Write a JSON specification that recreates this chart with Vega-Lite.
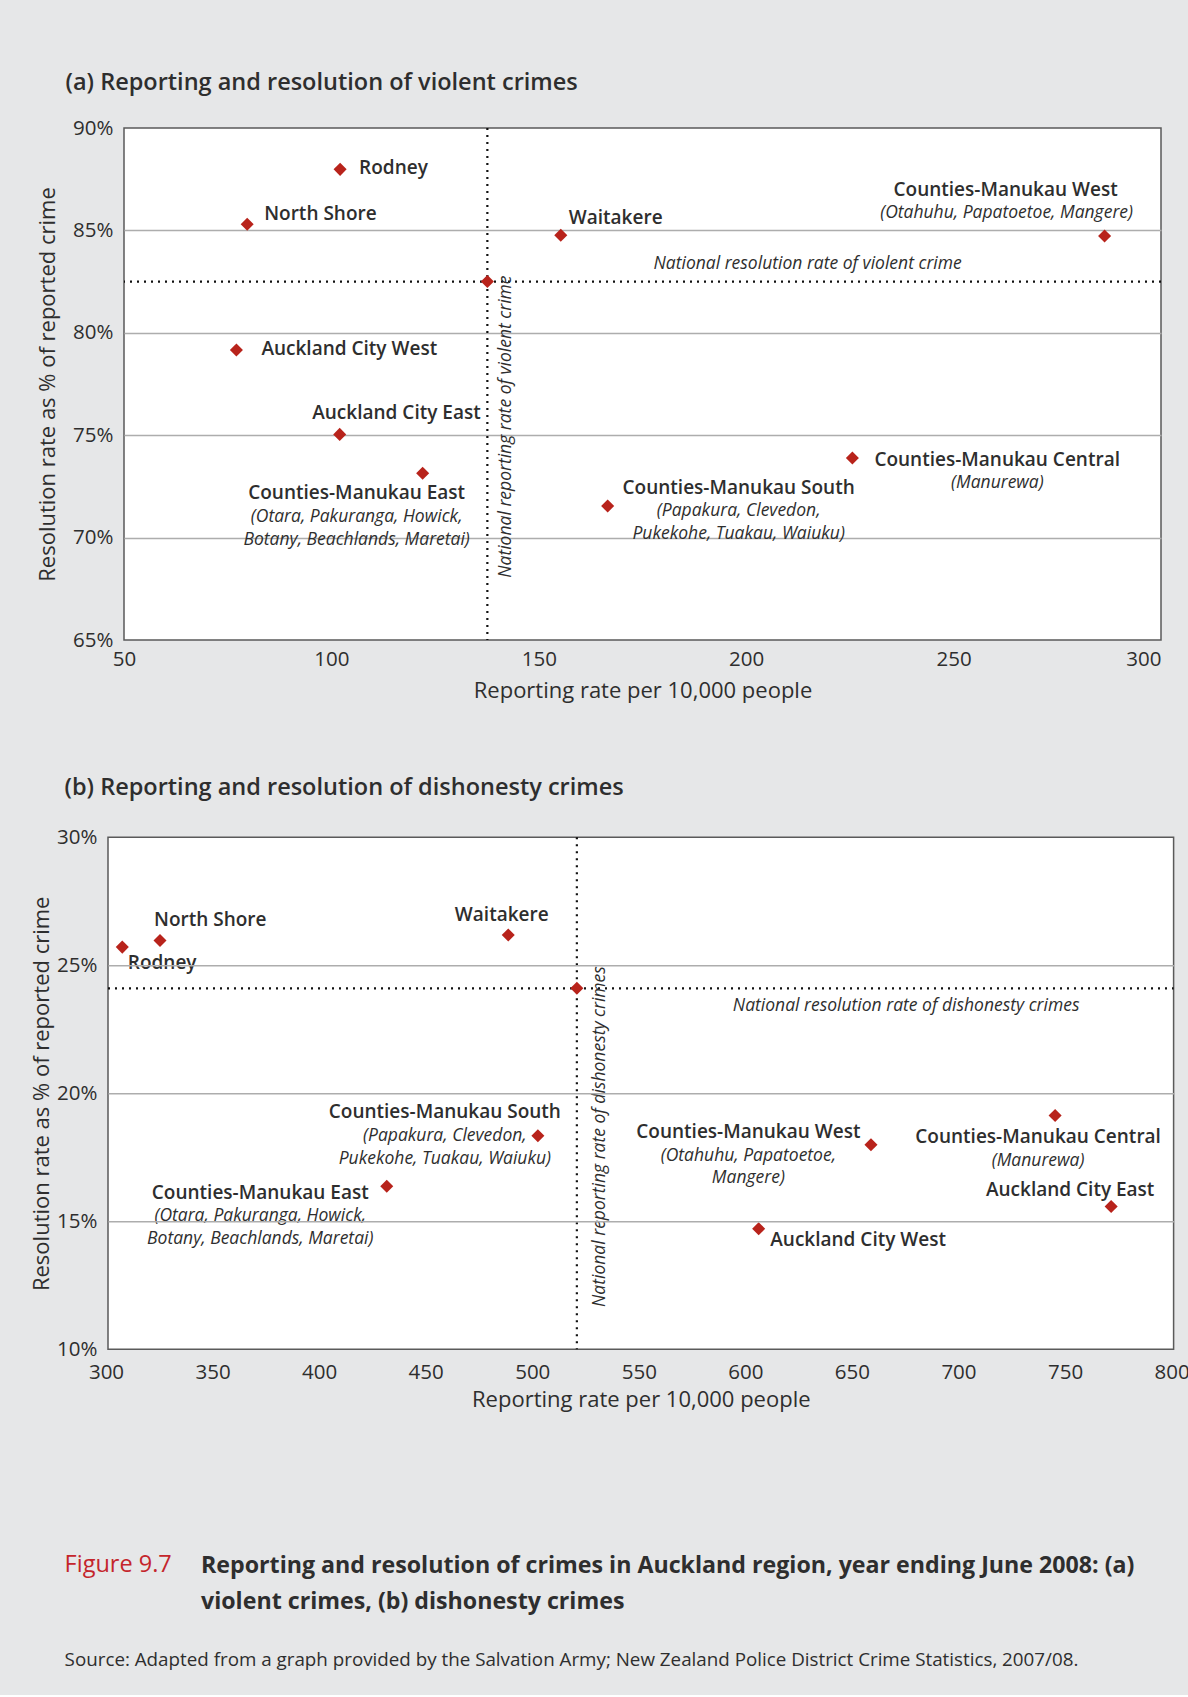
{
  "$schema": "https://vega.github.io/schema/vega-lite/v6.json",
  "background": "#e6e7e8",
  "padding": {"left": 29, "top": 69, "right": 0, "bottom": 25},
  "config": {
    "font": "Open Sans",
    "view": {"fill": "white", "stroke": "#5a5a5a", "strokeWidth": 1.5},
    "axis": {"labelFont": "Open Sans", "labelFontSize": 20.5, "labelColor": "#2e2e2e", "titleFont": "Open Sans", "titleFontSize": 22, "titleFontWeight": "normal", "titleColor": "#2e2e2e", "domain": false, "ticks": false, "grid": false},
    "title": {"font": "Open Sans"},
    "text": {"font": "Open Sans", "color": "#2e2e2e"},
    "style": {
      "name": {"fontSize": 19, "fontWeight": 600, "baseline": "middle", "font": "Open Sans", "fill": "#2e2e2e"},
      "sub": {"fontSize": 17.5, "fontStyle": "italic", "baseline": "top", "lineBreak": "\n", "lineHeight": 22.5, "font": "Open Sans", "fill": "#2e2e2e", "align": "center"},
      "note": {"fontSize": 17.5, "fontStyle": "italic", "baseline": "middle", "font": "Open Sans", "fill": "#2e2e2e", "align": "center"}
    }
  },
  "datasets": {
    "violent": [
      {"region": "Rodney", "sub": "", "reporting": 102.1, "resolution": 87.98},
      {"region": "North Shore", "sub": "", "reporting": 79.7, "resolution": 85.3},
      {"region": "Auckland City West", "sub": "", "reporting": 77.1, "resolution": 79.16},
      {"region": "Auckland City East", "sub": "", "reporting": 102.0, "resolution": 75.04},
      {"region": "Counties-Manukau East", "sub": "(Otara, Pakuranga, Howick,\nBotany, Beachlands, Maretai)", "reporting": 122.0, "resolution": 73.14},
      {"region": "Waitakere", "sub": "", "reporting": 155.3, "resolution": 84.76},
      {"region": "Counties-Manukau South", "sub": "(Papakura, Clevedon,\nPukekohe, Tuakau, Waiuku)", "reporting": 166.6, "resolution": 71.54},
      {"region": "Counties-Manukau Central", "sub": "(Manurewa)", "reporting": 225.6, "resolution": 73.89},
      {"region": "Counties-Manukau West", "sub": "(Otahuhu, Papatoetoe, Mangere)", "reporting": 286.4, "resolution": 84.73},
      {"region": "National", "sub": "", "reporting": 137.6, "resolution": 82.5}
    ],
    "dishonesty": [
      {"region": "Rodney", "sub": "", "reporting": 306.7, "resolution": 25.71},
      {"region": "North Shore", "sub": "", "reporting": 324.4, "resolution": 25.97},
      {"region": "Waitakere", "sub": "", "reporting": 487.8, "resolution": 26.18},
      {"region": "Counties-Manukau South", "sub": "(Papakura, Clevedon,\nPukekohe, Tuakau, Waiuku)", "reporting": 501.7, "resolution": 18.34},
      {"region": "Counties-Manukau East", "sub": "(Otara, Pakuranga, Howick,\nBotany, Beachlands, Maretai)", "reporting": 430.8, "resolution": 16.37},
      {"region": "Counties-Manukau West", "sub": "(Otahuhu, Papatoetoe,\nMangere)", "reporting": 658.0, "resolution": 17.99},
      {"region": "Auckland City West", "sub": "", "reporting": 605.3, "resolution": 14.71},
      {"region": "Counties-Manukau Central", "sub": "(Manurewa)", "reporting": 744.4, "resolution": 19.13},
      {"region": "Auckland City East", "sub": "", "reporting": 770.7, "resolution": 15.58},
      {"region": "National", "sub": "", "reporting": 520.0, "resolution": 24.1}
    ]
  },
  "title": {
    "text": "Figure 9.7",
    "subtitle": "Source: Adapted from a graph provided by the Salvation Army; New Zealand Police District Crime Statistics, 2007/08.",
    "orient": "bottom", "anchor": "start", "dx": 34.6, "offset": -60.5,
    "color": "#c4252b", "fontSize": 23.5, "fontWeight": "normal",
    "subtitleFont": "Open Sans", "subtitleFontSize": 18.8, "subtitleColor": "#2e2e2e", "subtitlePadding": 74.7
  },
  "vconcat": [
    {
      "title": {
        "text": ["Reporting and resolution of crimes in Auckland region, year ending June 2008: (a)", "violent crimes, (b) dishonesty crimes"],
        "orient": "bottom", "anchor": "start", "dx": 171, "offset": 144.2,
        "fontSize": 23.2, "fontWeight": "bold", "color": "#2e2e2e", "lineHeight": 36
      },
      "spacing": 73.3,
      "vconcat": [
        {
          "width": 1037, "height": 512,
          "title": {"text": "(a) Reporting and resolution of violent crimes", "anchor": "start", "frame": "group", "dx": -58.5, "offset": 23.8, "fontSize": 23.5, "fontWeight": 600, "color": "#2e2e2e"},
          "data": {"name": "violent"},
          "layer": [
            {
              "transform": [{"filter": "datum.region == 'National'"}],
              "mark": {"type": "rule", "strokeDash": [2, 5], "strokeWidth": 2.2, "color": "#111111"},
              "encoding": {"x": {"field": "reporting", "type": "quantitative"}}
            },
            {
              "transform": [{"filter": "datum.region == 'National'"}],
              "mark": {"type": "rule", "strokeDash": [2, 5], "strokeWidth": 2.2, "color": "#111111"},
              "encoding": {"y": {"field": "resolution", "type": "quantitative"}}
            },
            {
              "mark": {"type": "point", "shape": "diamond", "filled": true, "size": 170, "color": "#b8231b", "opacity": 1},
              "encoding": {
                "x": {"field": "reporting", "type": "quantitative",
                  "scale": {"domain": [50, 300], "nice": false, "zero": false},
                  "axis": {"title": "Reporting rate per 10,000 people", "values": [50, 100, 150, 200, 250, 300], "labelFlush": false,
                    "labelAlign": {"condition": {"test": "datum.value == 300", "value": "right"}, "value": "center"},
                    "labelPadding": 9, "titleY": 50.5, "titleBaseline": "middle"}},
                "y": {"field": "resolution", "type": "quantitative",
                  "scale": {"domain": [65, 90], "nice": false, "zero": false},
                  "axis": {"title": "Resolution rate as % of reported crime", "values": [65, 70, 75, 80, 85, 90], "labelExpr": "datum.value + '%'",
                    "grid": true, "gridColor": {"condition": {"test": "datum.value == 65 || datum.value == 90", "value": "transparent"}, "value": "#adadad"},
                    "gridWidth": 1.5, "labelPadding": 11, "titleX": -76.7, "titleBaseline": "middle"}}
              }
            },
            {"transform": [{"filter": "datum.region == 'Rodney'"}], "mark": {"type": "text", "style": "name", "align": "left", "dx": 19, "dy": -1},
             "encoding": {"x": {"field": "reporting", "type": "quantitative"}, "y": {"field": "resolution", "type": "quantitative"}, "text": {"field": "region"}}},
            {"transform": [{"filter": "datum.region == 'North Shore'"}], "mark": {"type": "text", "style": "name", "align": "left", "dx": 17, "dy": -10},
             "encoding": {"x": {"field": "reporting", "type": "quantitative"}, "y": {"field": "resolution", "type": "quantitative"}, "text": {"field": "region"}}},
            {"transform": [{"filter": "datum.region == 'Auckland City West'"}], "mark": {"type": "text", "style": "name", "align": "left", "dx": 25, "dy": -1},
             "encoding": {"x": {"field": "reporting", "type": "quantitative"}, "y": {"field": "resolution", "type": "quantitative"}, "text": {"field": "region"}}},
            {"transform": [{"filter": "datum.region == 'Waitakere'"}], "mark": {"type": "text", "style": "name", "align": "left", "dx": 8, "dy": -17},
             "encoding": {"x": {"field": "reporting", "type": "quantitative"}, "y": {"field": "resolution", "type": "quantitative"}, "text": {"field": "region"}}},
            {"transform": [{"filter": "datum.region == 'Counties-Manukau Central'"}], "mark": {"type": "text", "style": "name", "align": "left", "dx": 22, "dy": 2},
             "encoding": {"x": {"field": "reporting", "type": "quantitative"}, "y": {"field": "resolution", "type": "quantitative"}, "text": {"field": "region"}}},
            {"transform": [{"filter": "datum.region == 'Auckland City East'"}], "mark": {"type": "text", "style": "name", "align": "right", "dx": 141, "dy": -21},
             "encoding": {"x": {"field": "reporting", "type": "quantitative"}, "y": {"field": "resolution", "type": "quantitative"}, "text": {"field": "region"}}},
            {"transform": [{"filter": "datum.region == 'Counties-Manukau East'"}], "mark": {"type": "text", "style": "name", "align": "center", "dx": -66, "dy": 20},
             "encoding": {"x": {"field": "reporting", "type": "quantitative"}, "y": {"field": "resolution", "type": "quantitative"}, "text": {"field": "region"}}},
            {"transform": [{"filter": "datum.region == 'Counties-Manukau South'"}], "mark": {"type": "text", "style": "name", "align": "center", "dx": 131, "dy": -18},
             "encoding": {"x": {"field": "reporting", "type": "quantitative"}, "y": {"field": "resolution", "type": "quantitative"}, "text": {"field": "region"}}},
            {"transform": [{"filter": "datum.region == 'Counties-Manukau West'"}], "mark": {"type": "text", "style": "name", "align": "center", "dx": -99, "dy": -46},
             "encoding": {"x": {"field": "reporting", "type": "quantitative"}, "y": {"field": "resolution", "type": "quantitative"}, "text": {"field": "region"}}},
            {"transform": [{"filter": "datum.region == 'Counties-Manukau East'"}], "mark": {"type": "text", "style": "sub", "dx": -66, "dy": 35},
             "encoding": {"x": {"field": "reporting", "type": "quantitative"}, "y": {"field": "resolution", "type": "quantitative"}, "text": {"field": "sub"}}},
            {"transform": [{"filter": "datum.region == 'Counties-Manukau South'"}], "mark": {"type": "text", "style": "sub", "dx": 131, "dy": -4},
             "encoding": {"x": {"field": "reporting", "type": "quantitative"}, "y": {"field": "resolution", "type": "quantitative"}, "text": {"field": "sub"}}},
            {"transform": [{"filter": "datum.region == 'Counties-Manukau Central'"}], "mark": {"type": "text", "style": "sub", "dx": 145, "dy": 16},
             "encoding": {"x": {"field": "reporting", "type": "quantitative"}, "y": {"field": "resolution", "type": "quantitative"}, "text": {"field": "sub"}}},
            {"transform": [{"filter": "datum.region == 'Counties-Manukau West'"}], "mark": {"type": "text", "style": "sub", "dx": -98, "dy": -32},
             "encoding": {"x": {"field": "reporting", "type": "quantitative"}, "y": {"field": "resolution", "type": "quantitative"}, "text": {"field": "sub"}}},
            {"transform": [{"filter": "datum.region == 'National'"}], "mark": {"type": "text", "style": "note", "dy": -18},
             "encoding": {"x": {"datum": 214.8}, "y": {"field": "resolution", "type": "quantitative"}, "text": {"value": "National resolution rate of violent crime"}}},
            {"transform": [{"filter": "datum.region == 'National'"}], "mark": {"type": "text", "style": "note", "angle": 270, "dy": 19},
             "encoding": {"x": {"field": "reporting", "type": "quantitative"}, "y": {"datum": 75.42}, "text": {"value": "National reporting rate of violent crime"}}}
          ]
        },
        {
          "width": 1049.6, "height": 512,
          "view": {"fill": null, "stroke": null},
          "title": {"text": "(b) Reporting and resolution of dishonesty crimes", "anchor": "start", "frame": "group", "dx": -59.5, "offset": 27.5, "fontSize": 23.5, "fontWeight": 600, "color": "#2e2e2e"},
          "data": {"name": "dishonesty"},
          "layer": [
            {
              "transform": [{"filter": "datum.region == 'National'"}],
              "mark": {"type": "rect", "fill": "white", "stroke": "#5a5a5a", "strokeWidth": 1.5},
              "encoding": {"x": {"datum": 300, "type": "quantitative"}, "x2": {"datum": 800}, "y": {"datum": 10, "type": "quantitative"}, "y2": {"datum": 30}}
            },
            {
              "transform": [{"filter": "datum.region == 'National'"}],
              "mark": {"type": "rule", "strokeDash": [2, 5], "strokeWidth": 2.2, "color": "#111111"},
              "encoding": {"x": {"field": "reporting", "type": "quantitative"}}
            },
            {
              "transform": [{"filter": "datum.region == 'National'"}],
              "mark": {"type": "rule", "strokeDash": [2, 5], "strokeWidth": 2.2, "color": "#111111"},
              "encoding": {"y": {"field": "resolution", "type": "quantitative"}, "x": {"datum": 300, "type": "quantitative"}, "x2": {"datum": 800}}
            },
            {
              "mark": {"type": "point", "shape": "diamond", "filled": true, "size": 170, "color": "#b8231b", "opacity": 1},
              "encoding": {
                "x": {"field": "reporting", "type": "quantitative",
                  "scale": {"domain": [300, 800], "range": [-16, 1049.6], "nice": false, "zero": false},
                  "axis": {"title": "Reporting rate per 10,000 people", "values": [300, 350, 400, 450, 500, 550, 600, 650, 700, 750, 800], "labelFlush": false,
                    "labelOffset": -2, "labelPadding": 13, "titleY": 50.3, "titleBaseline": "middle"}},
                "y": {"field": "resolution", "type": "quantitative",
                  "scale": {"domain": [10, 30], "nice": false, "zero": false},
                  "axis": {"title": "Resolution rate as % of reported crime", "values": [10, 15, 20, 25, 30], "labelExpr": "datum.value + '%'",
                    "grid": true, "gridColor": {"condition": {"test": "datum.value == 10 || datum.value == 30", "value": "transparent"}, "value": "#adadad"},
                    "gridWidth": 1.5, "labelPadding": 11, "offset": 16, "zindex": 1, "titleX": -67, "titleBaseline": "middle"}}
              }
            },
            {"transform": [{"filter": "datum.region == 'Rodney'"}], "mark": {"type": "text", "style": "name", "align": "left", "dx": 5.5, "dy": 16},
             "encoding": {"x": {"field": "reporting", "type": "quantitative"}, "y": {"field": "resolution", "type": "quantitative"}, "text": {"field": "region"}}},
            {"transform": [{"filter": "datum.region == 'North Shore'"}], "mark": {"type": "text", "style": "name", "align": "left", "dx": -6, "dy": -20.5},
             "encoding": {"x": {"field": "reporting", "type": "quantitative"}, "y": {"field": "resolution", "type": "quantitative"}, "text": {"field": "region"}}},
            {"transform": [{"filter": "datum.region == 'Waitakere'"}], "mark": {"type": "text", "style": "name", "align": "center", "dx": -6.5, "dy": -19.7},
             "encoding": {"x": {"field": "reporting", "type": "quantitative"}, "y": {"field": "resolution", "type": "quantitative"}, "text": {"field": "region"}}},
            {"transform": [{"filter": "datum.region == 'Auckland City West'"}], "mark": {"type": "text", "style": "name", "align": "left", "dx": 11.6, "dy": 11.7},
             "encoding": {"x": {"field": "reporting", "type": "quantitative"}, "y": {"field": "resolution", "type": "quantitative"}, "text": {"field": "region"}}},
            {"transform": [{"filter": "datum.region == 'Counties-Manukau South'"}], "mark": {"type": "text", "style": "name", "align": "center", "dx": -93, "dy": -24},
             "encoding": {"x": {"field": "reporting", "type": "quantitative"}, "y": {"field": "resolution", "type": "quantitative"}, "text": {"field": "region"}}},
            {"transform": [{"filter": "datum.region == 'Counties-Manukau East'"}], "mark": {"type": "text", "style": "name", "align": "center", "dx": -126.5, "dy": 7},
             "encoding": {"x": {"field": "reporting", "type": "quantitative"}, "y": {"field": "resolution", "type": "quantitative"}, "text": {"field": "region"}}},
            {"transform": [{"filter": "datum.region == 'Counties-Manukau West'"}], "mark": {"type": "text", "style": "name", "align": "center", "dx": -122.6, "dy": -12.3},
             "encoding": {"x": {"field": "reporting", "type": "quantitative"}, "y": {"field": "resolution", "type": "quantitative"}, "text": {"field": "region"}}},
            {"transform": [{"filter": "datum.region == 'Counties-Manukau Central'"}], "mark": {"type": "text", "style": "name", "align": "center", "dx": -17, "dy": 21},
             "encoding": {"x": {"field": "reporting", "type": "quantitative"}, "y": {"field": "resolution", "type": "quantitative"}, "text": {"field": "region"}}},
            {"transform": [{"filter": "datum.region == 'Auckland City East'"}], "mark": {"type": "text", "style": "name", "align": "center", "dx": -41, "dy": -16.7},
             "encoding": {"x": {"field": "reporting", "type": "quantitative"}, "y": {"field": "resolution", "type": "quantitative"}, "text": {"field": "region"}}},
            {"transform": [{"filter": "datum.region == 'Counties-Manukau South'"}], "mark": {"type": "text", "style": "sub", "dx": -93, "dy": -8.3},
             "encoding": {"x": {"field": "reporting", "type": "quantitative"}, "y": {"field": "resolution", "type": "quantitative"}, "text": {"field": "sub"}}},
            {"transform": [{"filter": "datum.region == 'Counties-Manukau East'"}], "mark": {"type": "text", "style": "sub", "dx": -126.5, "dy": 21},
             "encoding": {"x": {"field": "reporting", "type": "quantitative"}, "y": {"field": "resolution", "type": "quantitative"}, "text": {"field": "sub"}}},
            {"transform": [{"filter": "datum.region == 'Counties-Manukau West'"}], "mark": {"type": "text", "style": "sub", "dx": -122.6, "dy": 2},
             "encoding": {"x": {"field": "reporting", "type": "quantitative"}, "y": {"field": "resolution", "type": "quantitative"}, "text": {"field": "sub"}}},
            {"transform": [{"filter": "datum.region == 'Counties-Manukau Central'"}], "mark": {"type": "text", "style": "sub", "dx": -17, "dy": 36.7},
             "encoding": {"x": {"field": "reporting", "type": "quantitative"}, "y": {"field": "resolution", "type": "quantitative"}, "text": {"field": "sub"}}},
            {"transform": [{"filter": "datum.region == 'National'"}], "mark": {"type": "text", "style": "note", "dy": 17.7},
             "encoding": {"x": {"datum": 674.5}, "y": {"field": "resolution", "type": "quantitative"}, "text": {"value": "National resolution rate of dishonesty crimes"}}},
            {"transform": [{"filter": "datum.region == 'National'"}], "mark": {"type": "text", "style": "note", "angle": 270, "dy": 23.5},
             "encoding": {"x": {"field": "reporting", "type": "quantitative"}, "y": {"datum": 18.31}, "text": {"value": "National reporting rate of dishonesty crimes"}}}
          ]
        }
      ]
    }
  ]
}
